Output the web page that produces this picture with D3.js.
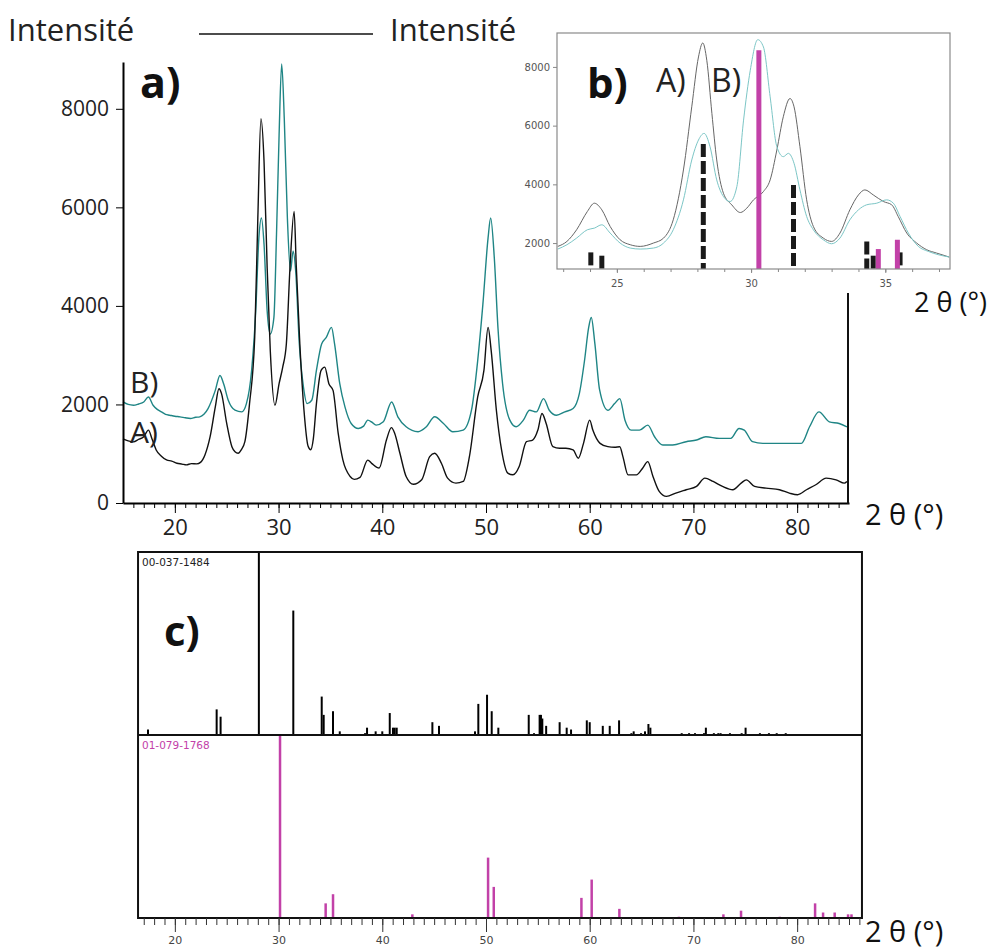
<!DOCTYPE html>
<html><head><meta charset="utf-8">
<script src="https://cdn.jsdelivr.net/npm/d3@7"></script>
<style>body{margin:0;background:#fff}svg{display:block}</style>
</head><body>
<script>
// ---------- DATA ----------
const xTicksA = [20,30,40,50,60,70,80];
const yTicksA = [0,2000,4000,6000,8000];
const xTicksB = [25,30,35];
const yTicksB = [2000,4000,6000,8000];
const xTicksC = [20,30,40,50,60,70,80];

// panel a) : sample A (black) and sample B (teal), [2theta, intensity]
const seriesA_a = [
[15.0,1300],[15.5,1260],[16.0,1240],[16.5,1290],[17.0,1345],[17.45,1480],[17.8,1300],[18.2,1076],[18.7,950],[19.2,874],[19.7,850],[20.2,807],[20.7,790],[21.1,773],[21.6,800],[22.1,794],[22.5,830],[22.9,975],[23.4,1345],[23.9,1950],[24.25,2320],[24.5,2219],[25.0,1614],[25.5,1143],[25.8,1040],[26.1,1009],[26.4,1080],[26.75,1244],[27.2,2017],[27.7,3362],[28.0,5783],[28.3,7800],[28.6,6927],[28.9,4775],[29.2,3093],[29.65,1984],[30.05,2421],[30.4,2757],[30.75,3228],[31.1,4775],[31.5,5918],[31.7,4842],[32.05,3228],[32.45,1883],[32.85,1150],[33.1,1080],[33.35,1300],[33.65,2017],[34.1,2690],[34.45,2757],[34.85,2421],[35.25,2286],[35.75,1412],[36.2,874],[36.9,538],[37.3,480],[37.85,520],[38.6,870],[39.0,800],[39.7,710],[40.4,1278],[40.88,1530],[41.2,1412],[41.7,1009],[42.3,538],[43.0,380],[43.8,471],[44.57,941],[45.05,1009],[45.7,807],[46.3,504],[47.1,404],[47.8,437],[48.4,941],[49.2,2152],[49.8,2690],[50.2,3564],[50.5,3093],[51.0,1883],[51.5,1076],[52.1,605],[52.6,572],[53.2,740],[53.9,1244],[54.5,1278],[55.0,1480],[55.4,1816],[55.8,1614],[56.45,1143],[57.1,1110],[57.7,1110],[58.4,1076],[58.9,908],[59.4,1210],[60.0,1681],[60.3,1480],[61.0,1210],[61.75,1143],[62.4,1130],[62.9,1143],[63.2,941],[63.7,571],[64.5,571],[65.1,706],[65.6,840],[66.1,538],[66.7,235],[67.4,134],[68.3,201],[69.3,269],[70.3,336],[71.1,504],[71.9,437],[72.8,336],[73.8,269],[74.6,403],[75.1,470],[75.9,336],[77.0,302],[78.3,269],[79.25,201],[80.05,168],[80.9,269],[81.8,370],[82.8,504],[83.75,470],[84.55,403],[84.8,437]
];
const seriesB_a = [
[15.0,2051],[15.5,2000],[16.0,1984],[16.5,2010],[17.0,2051],[17.45,2152],[17.9,1984],[18.3,1900],[18.7,1849],[19.1,1800],[19.5,1782],[20.0,1760],[20.5,1749],[21.0,1730],[21.5,1715],[22.0,1740],[22.4,1749],[22.8,1800],[23.2,1917],[23.9,2286],[24.35,2589],[24.7,2421],[25.15,2085],[25.8,1883],[26.45,1849],[26.9,2017],[27.4,2690],[27.8,3900],[28.1,5380],[28.35,5783],[28.6,5245],[28.9,3900],[29.2,3430],[29.55,3766],[29.8,5447],[30.05,7465],[30.3,8911],[30.55,7801],[30.85,5783],[31.15,4707],[31.4,5111],[31.65,4707],[32.0,3228],[32.4,2354],[32.75,2017],[33.2,2085],[33.65,2690],[34.15,3228],[34.6,3362],[35.1,3564],[35.4,3228],[35.9,2421],[36.4,1950],[37.0,1614],[37.7,1513],[38.2,1560],[38.6,1681],[39.0,1640],[39.4,1580],[40.1,1648],[40.9,2051],[41.5,1749],[42.3,1547],[43.45,1446],[44.25,1547],[45.05,1749],[45.9,1614],[46.8,1446],[47.8,1480],[48.6,1883],[49.2,2892],[49.7,4035],[50.2,5380],[50.45,5783],[50.8,4976],[51.15,3564],[51.6,2421],[52.3,1681],[52.9,1547],[53.6,1681],[54.2,1883],[54.85,1849],[55.55,2118],[56.1,1883],[56.8,1782],[57.6,1849],[58.4,1917],[59.0,2219],[59.5,2892],[59.9,3564],[60.15,3766],[60.5,3228],[60.95,2300],[61.75,1883],[62.4,2017],[62.9,2118],[63.4,1681],[64.0,1479],[64.8,1479],[65.6,1580],[66.25,1345],[67.05,1177],[68.0,1177],[69.3,1244],[70.3,1278],[71.2,1345],[72.5,1311],[73.6,1311],[74.4,1513],[74.9,1479],[75.7,1244],[76.7,1210],[77.95,1210],[79.25,1210],[80.4,1210],[81.2,1547],[82.1,1849],[83.1,1647],[84.05,1614],[84.8,1547]
];

// panel b) : zoomed region
const seriesA_b = [
[22.8,1887],[23.14,2057],[23.5,2453],[23.9,3075],[24.16,3358],[24.44,3132],[24.75,2566],[25.12,2113],[25.5,1943],[25.87,1887],[26.36,2000],[26.74,2170],[27.1,2792],[27.48,4490],[27.79,6641],[28.04,8339],[28.2,8815],[28.35,8226],[28.54,6415],[28.72,4830],[28.97,3698],[29.28,3302],[29.6,3041],[29.84,3189],[30.09,3472],[30.46,3755],[30.71,4151],[30.96,5170],[31.2,6302],[31.45,6924],[31.6,6641],[31.82,5283],[32.07,3472],[32.32,2566],[32.69,2170],[33.0,2057],[33.31,2340],[33.68,3132],[34.0,3641],[34.24,3811],[34.55,3641],[34.93,3415],[35.24,3302],[35.48,2906],[35.8,2340],[36.17,2000],[36.54,1774],[36.91,1660],[37.38,1525]
];
const seriesB_b = [
[22.8,1796],[23.14,1943],[23.5,2170],[23.9,2453],[24.16,2509],[24.44,2623],[24.75,2340],[25.12,2000],[25.5,1830],[25.87,1796],[26.36,1830],[26.74,2000],[27.1,2453],[27.48,3472],[27.79,4830],[28.04,5509],[28.25,5736],[28.47,5283],[28.72,4151],[28.97,3585],[29.22,3415],[29.47,3924],[29.72,6188],[29.97,7886],[30.25,8928],[30.46,8679],[30.71,6981],[30.96,5283],[31.2,4943],[31.39,5056],[31.6,4717],[31.82,3811],[32.07,2906],[32.32,2453],[32.69,2113],[33.0,1977],[33.31,2170],[33.68,2792],[34.0,3132],[34.3,3302],[34.68,3358],[35.05,3472],[35.3,3358],[35.55,2906],[35.86,2340],[36.23,1887],[36.6,1717],[36.97,1604],[37.38,1525]
];
const refBlack_b = [[24.03,1683],[24.44,1570],[28.22,5373],[31.58,3981],[34.31,2057],[34.55,1570],[35.55,1683]];
const refMagenta_b = [[30.29,8566],[34.74,1796],[35.45,2113]];

// panel c) : reference patterns [2theta, relative intensity]
const card1Label = "00-037-1484";
const card2Label = "01-079-1768";
const card1 = [
[17.41,3],[24.03,14],[24.41,10],[28.1,100],[31.42,68],[34.16,21],[34.35,11],[35.25,13],[35.9,2],[38.34,1],[38.53,4],[39.36,2],[40.0,2],[40.72,12],[41.03,4],[41.2,4],[41.39,4],[44.83,7],[45.47,5],[48.94,2],[49.26,17],[50.1,22],[50.55,13],[51.19,4],[54.12,11],[54.63,1],[55.17,11],[55.3,11],[55.43,9],[55.8,5],[57.1,7],[57.78,4],[58.2,3],[59.72,8],[60.0,7],[61.26,5],[61.93,5],[62.83,8],[64.02,1],[64.24,2],[64.95,1],[65.33,2],[65.66,6],[65.85,4],[68.87,1],[69.58,1],[70.15,1],[71.02,1],[71.2,4],[71.97,1],[72.4,1],[72.62,1],[73.52,1],[74.65,1],[75.03,4],[76.41,1],[77.28,1],[78.03,1],[78.9,1]
];
const card2 = [
[30.14,100],[34.54,8],[35.25,13],[42.9,2],[50.2,33],[50.75,17],[59.2,11],[60.19,21],[62.86,5],[68.6,0.7],[72.89,2],[74.59,4],[78.33,0.7],[81.73,8],[82.5,3],[83.62,3],[84.91,2],[85.24,2]
];

// ---------- DRAW ----------
const W = 995, H = 950;
const svg = d3.select("body").append("svg").attr("width", W).attr("height", H);
svg.append("rect").attr("width", W).attr("height", H).attr("fill", "#fff");
const FONT = "'Open Sans', sans-serif";
const SMALL = "'DejaVu Sans', sans-serif";
const line = (x, y) => d3.line().x(d => x(d[0])).y(d => y(d[1])).curve(d3.curveMonotoneX);

// header
svg.append("text").attr("x", 8).attr("y", 41).attr("font-family", FONT).attr("font-size", 31).attr("fill", "#222").text("Intensité");
svg.append("line").attr("x1", 199).attr("x2", 373).attr("y1", 34).attr("y2", 34).attr("stroke", "#111").attr("stroke-width", 1.5);
svg.append("text").attr("x", 390).attr("y", 41).attr("font-family", FONT).attr("font-size", 31).attr("fill", "#222").text("Intensité");

// ---- panel a
const xA = d3.scaleLinear([15, 85], [123, 849]);
const yA = d3.scaleLinear([0, 8950], [503, 62]);

const gA = svg.append("g");
gA.append("path").datum(seriesB_a).attr("d", line(xA, yA)).attr("fill", "none").attr("stroke", "#1f8585").attr("stroke-width", 1.4);
gA.append("path").datum(seriesA_a).attr("d", line(xA, yA)).attr("fill", "none").attr("stroke", "#111").attr("stroke-width", 1.4);

const axYA = gA.append("g").attr("transform", "translate(123,0)")
  .call(d3.axisLeft(yA).tickValues(yTicksA).tickSize(7).tickSizeOuter(0).tickFormat(d3.format("d")));
axYA.select(".domain").attr("stroke-width", 2);
axYA.selectAll("text").attr("font-family", FONT).attr("font-size", 21).attr("fill", "#222").attr("dx", "-4");
const axXAminor = gA.append("g").attr("transform", "translate(0,503)")
  .call(d3.axisBottom(xA).tickValues(d3.range(16, 85, 1)).tickSize(5).tickSizeOuter(0).tickFormat(""));
axXAminor.select(".domain").remove();
const axXA = gA.append("g").attr("transform", "translate(0,503)")
  .call(d3.axisBottom(xA).tickValues(xTicksA).tickSize(10).tickSizeOuter(0));
axXA.select(".domain").attr("stroke-width", 2);
axXA.selectAll("text").attr("font-family", FONT).attr("font-size", 22).attr("fill", "#222").attr("dy", "0.85em");
gA.append("line").attr("x1", 848).attr("x2", 848).attr("y1", 293).attr("y2", 504).attr("stroke", "#111").attr("stroke-width", 2);

gA.append("text").attr("x", 140).attr("y", 98).attr("font-family", FONT).attr("font-weight", 700).attr("font-size", 43).attr("fill", "#111").text("a)");
gA.append("text").attr("x", 130).attr("y", 393).attr("font-family", FONT).attr("font-size", 30).attr("fill", "#222").text("B)");
gA.append("text").attr("x", 130).attr("y", 443).attr("font-family", FONT).attr("font-size", 30).attr("fill", "#222").text("A)");
svg.append("text").attr("x", 865).attr("y", 525).attr("font-family", FONT).attr("font-size", 29).attr("fill", "#111").text("2 θ (°)");

// ---- panel b
const xB = d3.scaleLinear([22.77, 37.41], [557, 950]);
const yB = d3.scaleLinear([1117, 9155], [269, 33]);
const gB = svg.append("g");
gB.append("rect").attr("x", 557).attr("y", 33).attr("width", 393).attr("height", 236).attr("fill", "#fff");
gB.append("defs").append("clipPath").attr("id", "clipB").append("rect").attr("x", 557).attr("y", 33).attr("width", 393).attr("height", 236);
const gBc = gB.append("g").attr("clip-path", "url(#clipB)");
gBc.append("path").datum(seriesA_b).attr("d", line(xB, yB)).attr("fill", "none").attr("stroke", "#666").attr("stroke-width", 1);
gBc.append("path").datum(seriesB_b).attr("d", line(xB, yB)).attr("fill", "none").attr("stroke", "#7cc6c6").attr("stroke-width", 1);
gBc.selectAll("line.rb").data(refBlack_b).join("line").attr("class", "rb")
  .attr("x1", d => xB(d[0])).attr("x2", d => xB(d[0])).attr("y1", d => yB(d[1])).attr("y2", 269)
  .attr("stroke", "#1a1a1a").attr("stroke-width", 5).attr("stroke-dasharray", "13,4");
gBc.selectAll("line.rm").data(refMagenta_b).join("line").attr("class", "rm")
  .attr("x1", d => xB(d[0])).attr("x2", d => xB(d[0])).attr("y1", d => yB(d[1])).attr("y2", 269)
  .attr("stroke", "#c241a8").attr("stroke-width", 5);
gB.append("rect").attr("x", 557).attr("y", 33).attr("width", 393).attr("height", 236).attr("fill", "none").attr("stroke", "#8a8a8a").attr("stroke-width", 1.2);
const axYB = gB.append("g").attr("transform", "translate(557,0)")
  .call(d3.axisLeft(yB).tickValues(yTicksB).tickSize(4).tickFormat(d3.format("d")));
axYB.select(".domain").remove();
axYB.selectAll("line").attr("stroke", "#888");
axYB.selectAll("text").attr("font-family", SMALL).attr("font-size", 10).attr("fill", "#555");
const axXBm = gB.append("g").attr("transform", "translate(0,269)")
  .call(d3.axisBottom(xB).tickValues(d3.range(23, 38, 1)).tickSize(3).tickFormat(""));
axXBm.select(".domain").remove();
axXBm.selectAll("line").attr("stroke", "#888");
const axXB = gB.append("g").attr("transform", "translate(0,269)")
  .call(d3.axisBottom(xB).tickValues(xTicksB).tickSize(4));
axXB.select(".domain").remove();
axXB.selectAll("line").attr("stroke", "#888");
axXB.selectAll("text").attr("font-family", SMALL).attr("font-size", 10).attr("fill", "#555").attr("dy", "1.1em");
gB.append("text").attr("x", 587).attr("y", 98).attr("font-family", FONT).attr("font-weight", 700).attr("font-size", 42).attr("fill", "#111").text("b)");
gB.append("text").attr("x", 656).attr("y", 92).attr("font-family", FONT).attr("font-size", 32).attr("fill", "#222").text("A)");
gB.append("text").attr("x", 711).attr("y", 92).attr("font-family", FONT).attr("font-size", 32).attr("fill", "#222").text("B)");
svg.append("text").attr("x", 914).attr("y", 312).attr("font-family", FONT).attr("font-size", 27).attr("fill", "#111").text("2 θ (°)");

// ---- panel c
const cL = 16.45, cR = 86.25;
const xC = d3.scaleLinear([15, 85], [123, 849]);
const yC1 = d3.scaleLinear([0, 100], [735, 552]);
const yC2 = d3.scaleLinear([0, 100], [918, 735]);
const gC = svg.append("g");
gC.selectAll("line.c1").data(card1).join("line").attr("class", "c1")
  .attr("x1", d => xC(d[0])).attr("x2", d => xC(d[0])).attr("y1", d => yC1(d[1])).attr("y2", 735)
  .attr("stroke", "#000").attr("stroke-width", 2);
gC.selectAll("line.c2").data(card2).join("line").attr("class", "c2")
  .attr("x1", d => xC(d[0])).attr("x2", d => xC(d[0])).attr("y1", d => yC2(d[1])).attr("y2", 918)
  .attr("stroke", "#c241a8").attr("stroke-width", 2.5);
// frame
const fx0 = xC(cL), fx1 = xC(cR);
gC.append("path").attr("d", `M${fx0},552H${fx1}V918H${fx0}Z M${fx0},735H${fx1}`)
  .attr("fill", "none").attr("stroke", "#111").attr("stroke-width", 2);
const axCm = gC.append("g").attr("transform", "translate(0,918)")
  .call(d3.axisBottom(xC).tickValues(d3.range(17, 87, 1)).tickSize(7).tickFormat(""));
axCm.select(".domain").remove();
axCm.selectAll("line").attr("stroke", "#333");
const axC = gC.append("g").attr("transform", "translate(0,918)")
  .call(d3.axisBottom(xC).tickValues(xTicksC).tickSize(14));
axC.select(".domain").remove();
axC.selectAll("line").attr("stroke", "#333");
axC.selectAll("text").attr("font-family", SMALL).attr("font-size", 11).attr("fill", "#444").attr("dy", "0.85em");
gC.append("text").attr("x", 142).attr("y", 566).attr("font-family", SMALL).attr("font-size", 10.5).attr("fill", "#222").text(card1Label);
gC.append("text").attr("x", 142).attr("y", 749).attr("font-family", SMALL).attr("font-size", 10.5).attr("fill", "#c241a8").text(card2Label);
gC.append("text").attr("x", 164).attr("y", 646).attr("font-family", FONT).attr("font-weight", 700).attr("font-size", 42).attr("fill", "#111").text("c)");
svg.append("text").attr("x", 865).attr("y", 942).attr("font-family", FONT).attr("font-size", 29).attr("fill", "#111").text("2 θ (°)");
</script>
</body></html>
